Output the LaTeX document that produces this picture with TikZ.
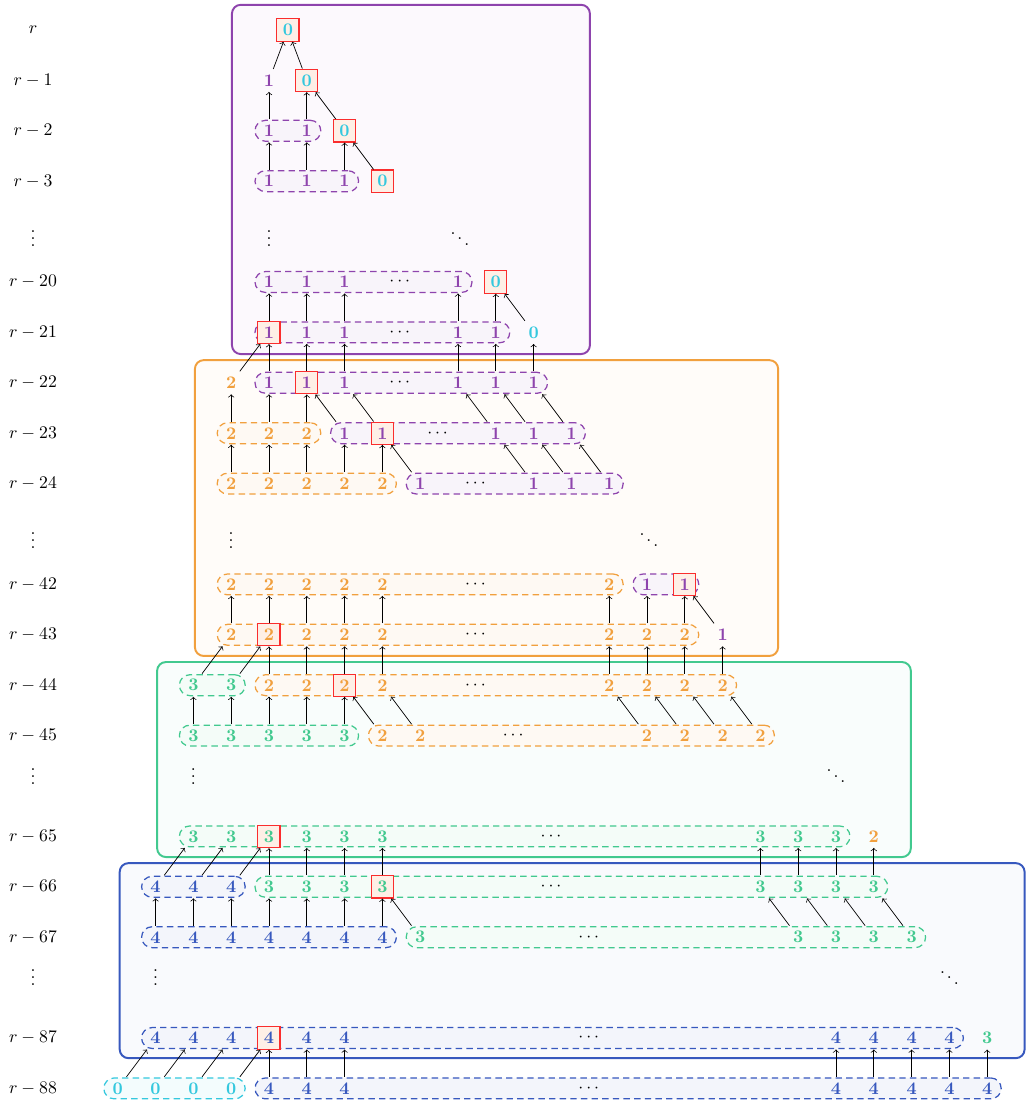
\documentclass[tikz,border=0pt]{standalone}
\usepackage{amsmath,amssymb}
\usetikzlibrary{fit}

\definecolor{cZero}{RGB}{52,200,222}
\definecolor{cOne}{RGB}{142,68,173}
\definecolor{cTwo}{RGB}{241,160,62}
\definecolor{cThree}{RGB}{66,201,143}
\definecolor{cFour}{RGB}{55,88,190}
\definecolor{hitfill}{RGB}{254,239,230}
\definecolor{hitline}{RGB}{250,45,45}

\pgfdeclarelayer{zones}
\pgfdeclarelayer{pills}
\pgfsetlayers{zones,pills,main}

\begin{document}
\begin{tikzpicture}[x=0.75cm, y=-1cm,
  dig/.style={inner sep=3pt, minimum size=12.5pt, font=\bfseries},
  d0/.style={dig, text=cZero},
  d1/.style={dig, text=cOne},
  d2/.style={dig, text=cTwo},
  d3/.style={dig, text=cThree},
  d4/.style={dig, text=cFour},
  hit/.style={draw=hitline, fill=hitfill, line width=0.65pt},
  dots/.style={inner sep=0pt},
  pill/.style={draw=#1, fill=#1!6, dash pattern=on 3.6pt off 2.4pt, line width=0.7pt,
    rounded corners=5.9pt, inner xsep=7.9pt, inner ysep=5.9pt},
  zone/.style={draw=#1, fill=#1!3, line width=1.1pt, rounded corners=5pt},
  up/.style={->}]
  \useasboundingbox (-3.116,-0.595) rectangle (24.026,21.25);

  % Row labels
  \node (l0) at (-2.243,0) {$r$};
  \node (l1) at (-2.243,1) {$r-1$};
  \node (l2) at (-2.243,2) {$r-2$};
  \node (l3) at (-2.243,3) {$r-3$};
  \node[dots] (lv1) at (-2.243,4.04) {$\vdots$};
  \node (l20) at (-2.243,5) {$r-20$};
  \node (l21) at (-2.243,6) {$r-21$};
  \node (l22) at (-2.243,7) {$r-22$};
  \node (l23) at (-2.243,8) {$r-23$};
  \node (l24) at (-2.243,9) {$r-24$};
  \node[dots] (lv2) at (-2.243,10.02) {$\vdots$};
  \node (l42) at (-2.243,11) {$r-42$};
  \node (l43) at (-2.243,12) {$r-43$};
  \node (l44) at (-2.243,13) {$r-44$};
  \node (l45) at (-2.243,14) {$r-45$};
  \node[dots] (lv3) at (-2.243,14.7) {$\vdots$};
  \node (l65) at (-2.243,16) {$r-65$};
  \node (l66) at (-2.243,17) {$r-66$};
  \node (l67) at (-2.243,18) {$r-67$};
  \node[dots] (lv4) at (-2.243,18.7) {$\vdots$};
  \node (l87) at (-2.243,20) {$r-87$};
  \node (l88) at (-2.243,21) {$r-88$};

  % Zones
  \begin{pgfonlayer}{zones}
    \draw[zone=cOne] (3.02,-0.5) rectangle (12.49,6.43);
    \draw[zone=cTwo] (2.04,6.55) rectangle (17.47,12.42);
    \draw[zone=cThree] (1.04,12.54) rectangle (20.98,16.41);
    \draw[zone=cFour] (0.05,16.53) rectangle (23.99,20.40);
  \end{pgfonlayer}

  % r .. r-3
  \node[d0, hit] (r0-4) at (4.5,0) {0};
  \node[d1] (r1-4) at (4,1) {1};
  \node[d0, hit] (r1-5) at (5,1) {0};
  \foreach \j in {4,5} \node[d1] (r2-\j) at (\j,2) {1};
  \node[d0, hit] (r2-6) at (6,2) {0};
  \foreach \j in {4,5,6} \node[d1] (r3-\j) at (\j,3) {1};
  \node[d0, hit] (r3-7) at (7,3) {0};
  \node[dots] (dv1) at (4,4.04) {$\vdots$};
  \node[dots] (dd1) at (9.05,4.04) {$\ddots$};

  % r-20 .. r-24
  \foreach \j in {4,5,6,9} \node[d1] (r20-\j) at (\j,5) {1};
  \node (r20-dots) at (7.5,5) {$\cdots$};
  \node[d0, hit] (r20-10) at (10,5) {0};

  \node[d1, hit] (r21-4) at (4,6) {1};
  \foreach \j in {5,6,9,10} \node[d1] (r21-\j) at (\j,6) {1};
  \node (r21-dots) at (7.5,6) {$\cdots$};
  \node[d0] (r21-11) at (11,6) {0};

  \node[d2] (r22-3) at (3,7) {2};
  \node[d1] (r22-4) at (4,7) {1};
  \node[d1, hit] (r22-5) at (5,7) {1};
  \foreach \j in {6,9,10,11} \node[d1] (r22-\j) at (\j,7) {1};
  \node (r22-dots) at (7.5,7) {$\cdots$};

  \foreach \j in {3,4,5} \node[d2] (r23-\j) at (\j,8) {2};
  \node[d1] (r23-6) at (6,8) {1};
  \node[d1, hit] (r23-7) at (7,8) {1};
  \foreach \j in {10,11,12} \node[d1] (r23-\j) at (\j,8) {1};
  \node (r23-dots) at (8.5,8) {$\cdots$};

  \foreach \j in {3,...,7} \node[d2] (r24-\j) at (\j,9) {2};
  \foreach \j in {8,11,12,13} \node[d1] (r24-\j) at (\j,9) {1};
  \node (r24-dots) at (9.5,9) {$\cdots$};
  \node[dots] (dv2) at (3,10.02) {$\vdots$};
  \node[dots] (dd2) at (14.05,10.02) {$\ddots$};

  % r-42 .. r-45
  \foreach \j in {3,4,5,6,7,13} \node[d2] (r42-\j) at (\j,11) {2};
  \node (r42-dots) at (9.5,11) {$\cdots$};
  \node[d1] (r42-14) at (14,11) {1};
  \node[d1, hit] (r42-15) at (15,11) {1};

  \node[d2] (r43-3) at (3,12) {2};
  \node[d2, hit] (r43-4) at (4,12) {2};
  \foreach \j in {5,6,7,13,14,15} \node[d2] (r43-\j) at (\j,12) {2};
  \node (r43-dots) at (9.5,12) {$\cdots$};
  \node[d1] (r43-16) at (16,12) {1};

  \foreach \j in {2,3} \node[d3] (r44-\j) at (\j,13) {3};
  \foreach \j in {4,5,7,13,14,15,16} \node[d2] (r44-\j) at (\j,13) {2};
  \node[d2, hit] (r44-6) at (6,13) {2};
  \node (r44-dots) at (9.5,13) {$\cdots$};

  \foreach \j in {2,...,6} \node[d3] (r45-\j) at (\j,14) {3};
  \foreach \j in {7,8,14,15,16,17} \node[d2] (r45-\j) at (\j,14) {2};
  \node (r45-dots) at (10.5,14) {$\cdots$};
  \node[dots] (dv3) at (2,14.7) {$\vdots$};
  \node[dots] (dd3) at (19,14.7) {$\ddots$};

  % r-65 .. r-67
  \foreach \j in {2,3,5,6,7,17,18,19} \node[d3] (r65-\j) at (\j,16) {3};
  \node[d3, hit] (r65-4) at (4,16) {3};
  \node (r65-dots) at (11.5,16) {$\cdots$};
  \node[d2] (r65-20) at (20,16) {2};

  \foreach \j in {1,2,3} \node[d4] (r66-\j) at (\j,17) {4};
  \foreach \j in {4,5,6,17,18,19,20} \node[d3] (r66-\j) at (\j,17) {3};
  \node[d3, hit] (r66-7) at (7,17) {3};
  \node (r66-dots) at (11.5,17) {$\cdots$};

  \foreach \j in {1,...,7} \node[d4] (r67-\j) at (\j,18) {4};
  \foreach \j in {8,18,19,20,21} \node[d3] (r67-\j) at (\j,18) {3};
  \node (r67-dots) at (12.5,18) {$\cdots$};
  \node[dots] (dv4) at (1,18.7) {$\vdots$};
  \node[dots] (dd4) at (22,18.7) {$\ddots$};

  % r-87, r-88
  \foreach \j in {1,2,3,5,6,19,20,21,22} \node[d4] (r87-\j) at (\j,20) {4};
  \node[d4, hit] (r87-4) at (4,20) {4};
  \node (r87-dots) at (12.5,20) {$\cdots$};
  \node[d3] (r87-23) at (23,20) {3};

  \foreach \j in {0,...,3} \node[d0] (r88-\j) at (\j,21) {0};
  \foreach \j in {4,5,6,19,20,21,22,23} \node[d4] (r88-\j) at (\j,21) {4};
  \node (r88-dots) at (12.5,21) {$\cdots$};

  % Pills
  \begin{pgfonlayer}{pills}
    \node[pill=cOne, fit=(r2-4.center)(r2-5.center)] (p2) {};
    \node[pill=cOne, fit=(r3-4.center)(r3-6.center)] (p3) {};
    \node[pill=cOne, fit=(r20-4.center)(r20-9.center)] (p20) {};
    \node[pill=cOne, fit=(r21-4.center)(r21-10.center)] (p21) {};
    \node[pill=cOne, fit=(r22-4.center)(r22-11.center)] (p22) {};
    \node[pill=cTwo, fit=(r23-3.center)(r23-5.center)] (p23a) {};
    \node[pill=cOne, fit=(r23-6.center)(r23-12.center)] (p23b) {};
    \node[pill=cTwo, fit=(r24-3.center)(r24-7.center)] (p24a) {};
    \node[pill=cOne, fit=(r24-8.center)(r24-13.center)] (p24b) {};
    \node[pill=cTwo, fit=(r42-3.center)(r42-13.center)] (p42a) {};
    \node[pill=cOne, fit=(r42-14.center)(r42-15.center)] (p42b) {};
    \node[pill=cTwo, fit=(r43-3.center)(r43-15.center)] (p43) {};
    \node[pill=cThree, fit=(r44-2.center)(r44-3.center)] (p44a) {};
    \node[pill=cTwo, fit=(r44-4.center)(r44-16.center)] (p44b) {};
    \node[pill=cThree, fit=(r45-2.center)(r45-6.center)] (p45a) {};
    \node[pill=cTwo, fit=(r45-7.center)(r45-17.center)] (p45b) {};
    \node[pill=cThree, fit=(r65-2.center)(r65-19.center)] (p65) {};
    \node[pill=cFour, fit=(r66-1.center)(r66-3.center)] (p66a) {};
    \node[pill=cThree, fit=(r66-4.center)(r66-20.center)] (p66b) {};
    \node[pill=cFour, fit=(r67-1.center)(r67-7.center)] (p67a) {};
    \node[pill=cThree, fit=(r67-8.center)(r67-21.center)] (p67b) {};
    \node[pill=cFour, fit=(r87-1.center)(r87-22.center)] (p87) {};
    \node[pill=cZero, fit=(r88-0.center)(r88-3.center)] (p88a) {};
    \node[pill=cFour, fit=(r88-4.center)(r88-23.center)] (p88b) {};
  \end{pgfonlayer}

  % Arrows
  \draw[up] (r1-4) -- (r0-4);
  \draw[up] (r1-5) -- (r0-4);
  \foreach \a/\b in {4/4,5/5,6/5} \draw[up] (r2-\a) -- (r1-\b);
  \foreach \a/\b in {4/4,5/5,6/6,7/6} \draw[up] (r3-\a) -- (r2-\b);
  \foreach \a/\b in {4/4,5/5,6/6,9/9,10/10,11/10} \draw[up] (r21-\a) -- (r20-\b);
  \foreach \a/\b in {3/4,4/4,5/5,6/6,9/9,10/10,11/11} \draw[up] (r22-\a) -- (r21-\b);
  \foreach \a/\b in {3/3,4/4,5/5,6/5,7/6,10/9,11/10,12/11} \draw[up] (r23-\a) -- (r22-\b);
  \foreach \a/\b in {3/3,4/4,5/5,6/6,7/7,8/7,11/10,12/11,13/12} \draw[up] (r24-\a) -- (r23-\b);
  \foreach \a/\b in {3/3,4/4,5/5,6/6,7/7,13/13,14/14,15/15,16/15} \draw[up] (r43-\a) -- (r42-\b);
  \foreach \a/\b in {2/3,3/4,4/4,5/5,6/6,7/7,13/13,14/14,15/15,16/16} \draw[up] (r44-\a) -- (r43-\b);
  \foreach \a/\b in {2/2,3/3,4/4,5/5,6/6,7/6,8/7,14/13,15/14,16/15,17/16} \draw[up] (r45-\a) -- (r44-\b);
  \foreach \a/\b in {1/2,2/3,3/4,4/4,5/5,6/6,7/7,17/17,18/18,19/19,20/20} \draw[up] (r66-\a) -- (r65-\b);
  \foreach \a/\b in {1/1,2/2,3/3,4/4,5/5,6/6,7/7,8/7,18/17,19/18,20/19,21/20} \draw[up] (r67-\a) -- (r66-\b);
  \foreach \a/\b in {0/1,1/2,2/3,3/4,4/4,5/5,6/6,19/19,20/20,21/21,22/22,23/23} \draw[up] (r88-\a) -- (r87-\b);
\end{tikzpicture}
\end{document}
